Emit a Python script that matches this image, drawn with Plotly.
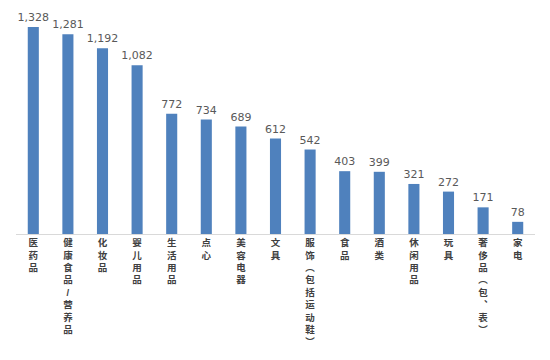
import plotly.graph_objects as go

categories = ["医药品", "健康食品/营养品", "化妆品", "婴儿用品", "生活用品", "点心", "美容电器",
              "文具", "服饰（包括运动鞋）", "食品", "酒类", "休闲用品", "玩具", "奢侈品（包、表）", "家电"]
values = [1328, 1281, 1192, 1082, 772, 734, 689, 612, 542, 403, 399, 321, 272, 171, 78]

# vertical (stacked) label text
vert_map = {"（": "︵", "）": "︶", "、": "︑"}
def vertical(s):
    return "<br>".join(vert_map.get(c, c) for c in s)

tick_text = [vertical(c) for c in categories]

fig = go.Figure(go.Bar(
    x=categories, y=values,
    marker=dict(color="#4f81bd", line=dict(width=0)),
    text=[f"{v:,}" for v in values],
    textposition="outside",
    constraintext="none",
    textfont=dict(family="DejaVu Sans", size=11, color="#595959"),
    cliponaxis=False,
))

# page body has an 8px margin, so the figure is sized to fit inside the 550x360 window
fig.update_layout(
    width=542, height=352,
    margin=dict(l=8, r=15, t=2, b=126, autoexpand=False),
    plot_bgcolor="white", paper_bgcolor="white",
    bargap=0.68,
    showlegend=False,
    xaxis=dict(
        tickmode="array", tickvals=categories, ticktext=tick_text,
        tickangle=0, automargin=False,
        tickfont=dict(family="Liberation Sans, Noto Sans CJK SC", size=9.5,
                      color="#404040", weight="bold"),
        showline=True, linecolor="#d9d9d9", linewidth=1,
        ticks="", showgrid=False,
    ),
    yaxis=dict(range=[0, 1437], visible=False, showgrid=False),
)

fig.write_html("out.html")
